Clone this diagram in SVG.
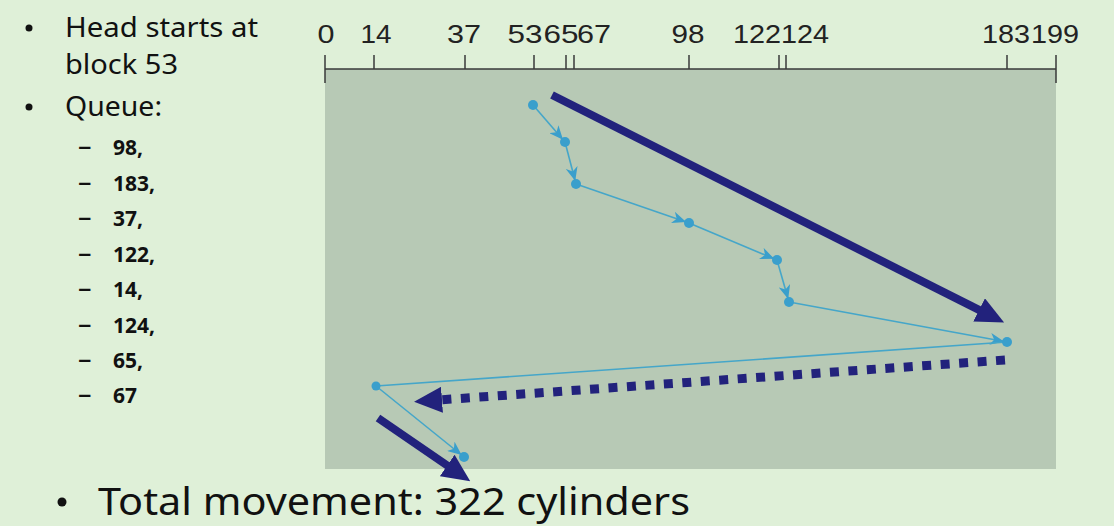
<svg xmlns="http://www.w3.org/2000/svg" width="1114" height="526" viewBox="0 0 1114 526">
<style>
.bg{fill:#dff0d8}
.panel{fill:#b7c9b5}
.axis{stroke:#3a3a3a;stroke-width:1.5;fill:none}
.lbl{font-family:"Liberation Sans",Arial,sans-serif;font-size:26px;fill:#222;text-anchor:middle}
.txt{font-family:"Noto Sans",Lato,sans-serif;font-size:27px;fill:#111}
.sub{font-family:"Noto Sans",Lato,sans-serif;font-size:21px;font-weight:bold;fill:#111}
.dash{font-family:"Noto Sans",Lato,sans-serif;font-size:27px;fill:#111}
.big{font-family:"Noto Sans",Lato,sans-serif;font-size:39px;fill:#111}
.pt{fill:#3a9fcc}
.seg{stroke:#45a6c9;stroke-width:1.6;fill:none}
.nav{stroke:#22227c;stroke-width:8;fill:none}
.dot{stroke:#22227c;stroke-width:9;stroke-dasharray:9 9.5;fill:none}
</style>
<defs>
<marker id="ah" viewBox="0 0 14 12" markerWidth="14" markerHeight="12" refX="17" refY="6" orient="auto" markerUnits="userSpaceOnUse">
<path d="M0,0 L14,6 L0,12 L4,6 z" fill="#3a9fcc"/>
</marker>
<marker id="big" viewBox="0 0 28 26" markerWidth="28" markerHeight="26" refX="1" refY="13" orient="auto" markerUnits="userSpaceOnUse">
<path d="M0,0 L28,13 L0,26 z" fill="#22227c"/>
</marker>
</defs>
<rect class="bg" x="0" y="0" width="1114" height="526"/>

<g id="bullets">
<circle cx="29" cy="28" r="3.5" fill="#111"/>
<text class="txt" x="65" y="37" textLength="193" lengthAdjust="spacingAndGlyphs">Head starts at</text>
<text class="txt" x="65" y="74" textLength="113" lengthAdjust="spacingAndGlyphs">block 53</text>
<circle cx="29" cy="107" r="3.5" fill="#111"/>
<text class="txt" x="65" y="116" textLength="97" lengthAdjust="spacingAndGlyphs">Queue:</text>
<g>
<text class="dash" x="78" y="155">–</text><text class="sub" x="113" y="155">98,</text>
<text class="dash" x="78" y="191">–</text><text class="sub" x="113" y="191">183,</text>
<text class="dash" x="78" y="226">–</text><text class="sub" x="113" y="226">37,</text>
<text class="dash" x="78" y="262">–</text><text class="sub" x="113" y="262">122,</text>
<text class="dash" x="78" y="297">–</text><text class="sub" x="113" y="297">14,</text>
<text class="dash" x="78" y="333">–</text><text class="sub" x="113" y="333">124,</text>
<text class="dash" x="78" y="368">–</text><text class="sub" x="113" y="368">65,</text>
<text class="dash" x="78" y="403">–</text><text class="sub" x="113" y="403">67</text>
</g>
<circle cx="62" cy="502" r="4.5" fill="#111"/>
<text class="big" x="98" y="515" textLength="592" lengthAdjust="spacingAndGlyphs">Total movement: 322 cylinders</text>
</g>

<g id="chart">
<rect class="panel" x="325" y="69" width="731" height="400"/>
<path class="axis" d="M325,69 H1056 M325,55 V83 M1056,55 V83 M374,55 V69 M465,55 V69 M534,55 V69 M566,55 V69 M574,55 V69 M689,55 V69 M779,55 V69 M786,55 V69 M1007,55 V69"/>
<text class="lbl" x="326" y="43" textLength="17" lengthAdjust="spacingAndGlyphs">0</text>
<text class="lbl" x="376" y="43" textLength="31" lengthAdjust="spacingAndGlyphs">14</text>
<text class="lbl" x="464" y="43" textLength="34" lengthAdjust="spacingAndGlyphs">37</text>
<text class="lbl" x="525" y="43" textLength="35" lengthAdjust="spacingAndGlyphs">53</text>
<text class="lbl" x="561" y="43" textLength="35" lengthAdjust="spacingAndGlyphs">65</text>
<text class="lbl" x="594" y="43" textLength="34" lengthAdjust="spacingAndGlyphs">67</text>
<text class="lbl" x="688" y="43" textLength="33" lengthAdjust="spacingAndGlyphs">98</text>
<text class="lbl" x="757" y="43" textLength="48" lengthAdjust="spacingAndGlyphs">122</text>
<text class="lbl" x="805" y="43" textLength="48" lengthAdjust="spacingAndGlyphs">124</text>
<text class="lbl" x="1006" y="43" textLength="48" lengthAdjust="spacingAndGlyphs">183</text>
<text class="lbl" x="1055" y="43" textLength="48" lengthAdjust="spacingAndGlyphs">199</text>
</g>

<g id="connectors">
<line class="seg" x1="533" y1="105" x2="565" y2="142" marker-end="url(#ah)"/>
<line class="seg" x1="565" y1="142" x2="576" y2="184" marker-end="url(#ah)"/>
<line class="seg" x1="576" y1="184" x2="689" y2="223" marker-end="url(#ah)"/>
<line class="seg" x1="689" y1="223" x2="777" y2="260" marker-end="url(#ah)"/>
<line class="seg" x1="777" y1="260" x2="789" y2="302" marker-end="url(#ah)"/>
<line class="seg" x1="789" y1="302" x2="1007" y2="342" marker-end="url(#ah)"/>
<line class="seg" x1="1007" y1="342" x2="376" y2="386"/>
<line class="seg" x1="376" y1="386" x2="464" y2="457" marker-end="url(#ah)"/>
<line class="nav" x1="552" y1="95" x2="980" y2="310.4" marker-end="url(#big)"/>
<line class="dot" x1="1005" y1="360" x2="441" y2="399.8" marker-end="url(#big)"/>
<line class="nav" x1="378" y1="418" x2="448" y2="466" marker-end="url(#big)"/>
</g>

<g id="n53"><circle class="pt" cx="533" cy="105" r="5"/></g>
<g id="n65"><circle class="pt" cx="565" cy="142" r="5"/></g>
<g id="n67"><circle class="pt" cx="576" cy="184" r="5"/></g>
<g id="n98"><circle class="pt" cx="689" cy="223" r="5"/></g>
<g id="n122"><circle class="pt" cx="777" cy="260" r="5"/></g>
<g id="n124"><circle class="pt" cx="789" cy="302" r="5"/></g>
<g id="n183"><circle class="pt" cx="1007" cy="342" r="5"/></g>
<g id="n14"><circle class="pt" cx="376" cy="386" r="4.5"/></g>
<g id="n37"><circle class="pt" cx="464" cy="457" r="5"/></g>
</svg>
